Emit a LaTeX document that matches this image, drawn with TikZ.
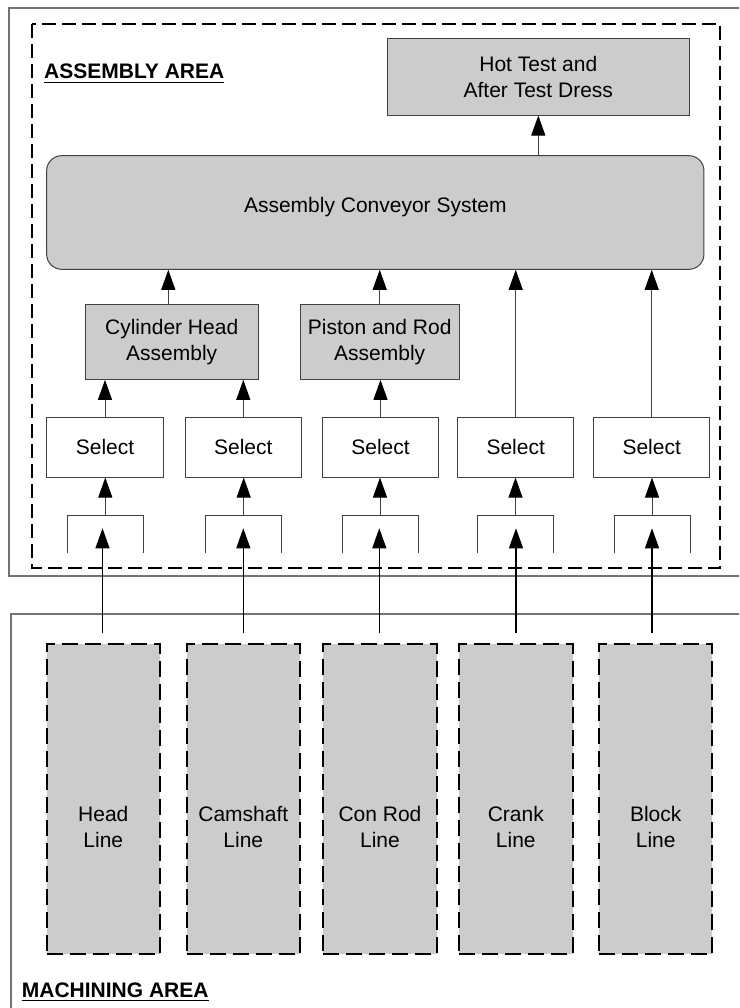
\documentclass[tikz,border=0pt]{standalone}
\usepackage{fontspec}
\setmainfont{Liberation Sans}
\usetikzlibrary{arrows.meta}
\begin{document}
\begin{tikzpicture}[x=1pt,y=-1pt,
  txt/.style={font=\fontsize{21}{26}\selectfont, align=center, inner sep=0pt},
  graybox/.style={txt, draw=black!75, fill=black!20, line width=1pt},
  whitebox/.style={txt, draw=black!75, fill=white, line width=1pt, minimum width=116.5pt, minimum height=59.7pt},
  linebox/.style={draw=black, fill=black!20, line width=2pt, dash pattern=on 16pt off 7pt, minimum width=113.5pt, minimum height=310pt, inner sep=0pt},
  conn/.style={draw=black!75, line width=1pt, -{Triangle[length=20pt,width=14pt,black]}},
  feed/.style={draw=black, line width=1.1pt, -{Triangle[length=20pt,width=14pt,black]}},
  bracket/.style={draw=black!75, line width=1pt},
  area/.style={draw=black!55, line width=1.3pt},
  arealbl/.style={font=\fontsize{21}{26}\selectfont\bfseries, inner sep=0pt, anchor=base west}]
\useasboundingbox (0,0) rectangle (739,1008);
\clip (0,0) rectangle (739,1008);

% areas
\draw[area] (9,8) rectangle (760,576);
\draw[area] (11,614) rectangle (760,1030);
\draw[line width=2pt, dash pattern=on 14pt off 6pt] (31.7,24) rectangle (720,568);

\node[arealbl] (alab) at (44,79) {ASSEMBLY AREA};
\draw[line width=1.6pt] ([yshift=-3.6pt]alab.base west) -- ([yshift=-3.6pt]alab.base east);
\node[arealbl] (mlab) at (21.7,997) {MACHINING AREA};
\draw[line width=1.6pt] ([yshift=-3.6pt]mlab.base west) -- ([yshift=-3.6pt]mlab.base east);

% assembly nodes
\node[graybox, minimum width=302pt, minimum height=76.7pt] (hot) at (538.3,76.7) {Hot Test and\\After Test Dress};
\node[graybox, rounded corners=15pt, minimum width=657.3pt, minimum height=113.6pt] (conv) at (375.3,212.5) {};
\node[txt] (convtxt) at (375.3,207) {Assembly Conveyor System};
\node[graybox, minimum width=173.3pt, minimum height=75.3pt] (cyl) at (171.7,341.7) {Cylinder Head\\Assembly};
\node[graybox, minimum width=159.3pt, minimum height=75.3pt] (pis) at (379.7,341.7) {Piston and Rod\\Assembly};

\node[whitebox] (s1) at (105,447.2) {Select};
\node[whitebox] (s2) at (243.3,447.2) {Select};
\node[whitebox] (s3) at (380.5,447.2) {Select};
\node[whitebox] (s4) at (515.7,447.2) {Select};
\node[whitebox] (s5) at (651.7,447.2) {Select};

% machining lines
\node[linebox] (l1) at (103.3,799) {};
\node[linebox] (l2) at (243.3,799) {};
\node[linebox] (l3) at (380,799) {};
\node[linebox] (l4) at (515.8,799) {};
\node[linebox] (l5) at (655.7,799) {};
\node[txt] (t1) at (103.3,827) {Head\\Line};
\node[txt] (t2) at (243.3,827) {Camshaft\\Line};
\node[txt] (t3) at (380,827) {Con Rod\\Line};
\node[txt] (t4) at (515.8,827) {Crank\\Line};
\node[txt] (t5) at (655.7,827) {Block\\Line};

% brackets
\foreach \i/\x in {1/105.3,2/243.7,3/380,4/515.5,5/652}{
  \draw[bracket] (\x-38,553.3) -- (\x-38,515.7) -- (\x+38,515.7) -- (\x+38,553.3);
  \coordinate (b\i) at (\x,515.7);
}
% feed arrows from machining lines
\foreach \i/\x in {1/102.5,2/243.3,3/379.3,4/516,5/652}{
  \coordinate (f\i) at (\x,633);
  \coordinate (g\i) at (\x,528.3);
  \draw[feed] (f\i) -- (g\i);
}

% connectors
\foreach \i in {1,...,5}{
  \draw[conn] (b\i) -- (b\i |- s\i.south);
}
\draw[conn] (s1.north) -- (s1.north |- cyl.south);
\draw[conn] (s2.north) -- (s2.north |- cyl.south);
\draw[conn] (s3.north) -- (s3.north |- pis.south);
\draw[conn] (s4.north) -- (s4.north |- conv.south);
\draw[conn] (s5.north) -- (s5.north |- conv.south);
\draw[conn] ([xshift=-3.4pt]cyl.north) -- ([xshift=-3.4pt]cyl.north |- conv.south);
\draw[conn] (pis.north) -- (pis.north |- conv.south);
\draw[conn] (hot.south |- conv.north) -- (hot.south);
\end{tikzpicture}
\end{document}
